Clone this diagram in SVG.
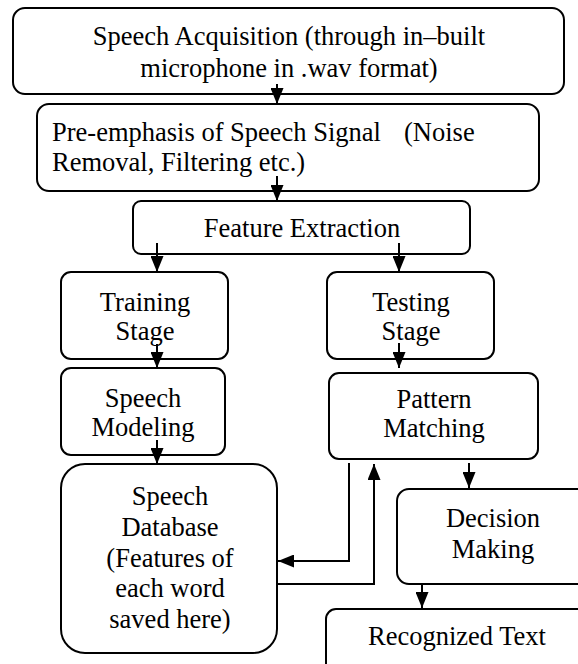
<svg xmlns="http://www.w3.org/2000/svg" width="578" height="664" viewBox="0 0 578 664">
<defs>
<style>
.box{fill:#fff;stroke:#000;stroke-width:2}
text{font-family:'Liberation Serif','Tinos','Times New Roman',serif;font-size:26.5px;fill:#000}
.t{text-anchor:middle}
.c{fill:none;stroke:#000;stroke-width:2}
</style>
<marker id="ah" markerWidth="16" markerHeight="13" refX="16" refY="6.5" orient="auto" markerUnits="userSpaceOnUse">
<path d="M0,0 L16,6.5 L0,13 Z" fill="#000"/>
</marker>
</defs>
<rect width="578" height="664" fill="#fff"/>
<g id="acquisition">
<rect class="box" x="13" y="8" width="551" height="86" rx="12"/>
<text class="t" x="289" y="45">Speech Acquisition (through in–built</text>
<text class="t" x="289" y="77">microphone in .wav format)</text>
</g>
<g id="preemphasis">
<rect class="box" x="37" y="104" width="502" height="87" rx="12"/>
<text x="52" y="141">Pre-emphasis of Speech Signal<tspan x="404">(Noise</tspan></text>
<text x="52" y="171">Removal, Filtering etc.)</text>
</g>
<g id="feature">
<rect class="box" x="133" y="201" width="337" height="53" rx="8"/>
<text class="t" x="302" y="237">Feature Extraction</text>
</g>
<g id="training">
<rect class="box" x="61" y="272" width="167" height="87" rx="10"/>
<text class="t" x="145" y="311">Training</text>
<text class="t" x="145" y="340">Stage</text>
</g>
<g id="testing">
<rect class="box" x="327" y="272" width="167" height="87" rx="10"/>
<text class="t" x="411" y="311">Testing</text>
<text class="t" x="411" y="340">Stage</text>
</g>
<g id="modeling">
<rect class="box" x="61" y="368" width="164" height="87" rx="10"/>
<text class="t" x="143" y="407">Speech</text>
<text class="t" x="143" y="436">Modeling</text>
</g>
<g id="pattern">
<rect class="box" x="329" y="373" width="209" height="86" rx="10"/>
<text class="t" x="434" y="408">Pattern</text>
<text class="t" x="434" y="437">Matching</text>
</g>
<g id="database">
<rect class="box" x="61" y="464" width="216" height="189" rx="24"/>
<text class="t" x="170" y="505">Speech</text>
<text class="t" x="170" y="536">Database</text>
<text class="t" x="170" y="567">(Features of</text>
<text class="t" x="170" y="597">each word</text>
<text class="t" x="170" y="628">saved here)</text>
</g>
<g id="decision">
<rect class="box" x="397" y="489" width="193" height="95" rx="12"/>
<text class="t" x="493" y="527">Decision</text>
<text class="t" x="493" y="558">Making</text>
</g>
<g id="recognized">
<rect class="box" x="326" y="609" width="262" height="70" rx="10"/>
<text class="t" x="457" y="645">Recognized Text</text>
</g>
<g id="connectors">
<line class="c" x1="277" y1="84" x2="277" y2="104" marker-end="url(#ah)"/>
<line class="c" x1="277" y1="176" x2="277" y2="201" marker-end="url(#ah)"/>
<line class="c" x1="157" y1="243" x2="157" y2="272" marker-end="url(#ah)"/>
<line class="c" x1="399" y1="243" x2="399" y2="272" marker-end="url(#ah)"/>
<line class="c" x1="157" y1="344" x2="157" y2="368" marker-end="url(#ah)"/>
<line class="c" x1="399" y1="343" x2="399" y2="368" marker-end="url(#ah)"/>
<line class="c" x1="157" y1="440" x2="157" y2="464" marker-end="url(#ah)"/>
<polyline class="c" points="349,463 349,561 278,561" marker-end="url(#ah)"/>
<polyline class="c" points="277,584 374,584 374,464" marker-end="url(#ah)"/>
<line class="c" x1="469" y1="463" x2="469" y2="488" marker-end="url(#ah)"/>
<line class="c" x1="422" y1="584" x2="422" y2="608" marker-end="url(#ah)"/>
</g>
</svg>
